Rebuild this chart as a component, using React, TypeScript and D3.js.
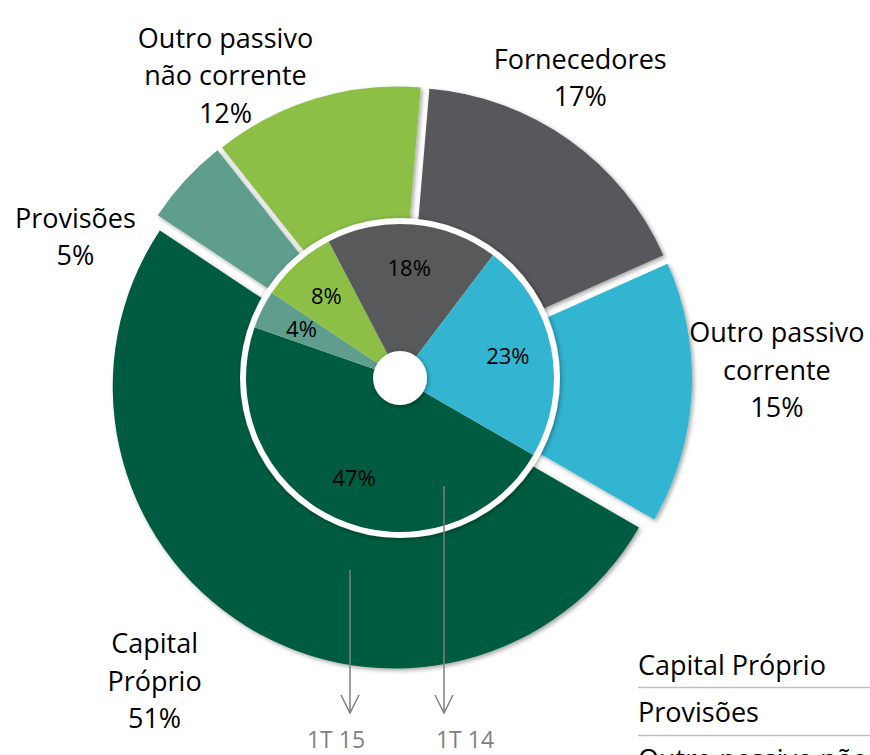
import React from "react";
import * as d3 from "d3";

const categories = [
  "Capital Próprio",
  "Provisões",
  "Outro passivo não corrente",
  "Fornecedores",
  "Outro passivo corrente",
];
const values1T15 = [51, 5, 12, 17, 15];
const values1T14 = [47, 4, 8, 18, 23];
const outerLabelLines = [
  ["Capital", "Próprio", "51%"],
  ["Provisões", "5%"],
  ["Outro passivo", "não corrente", "12%"],
  ["Fornecedores", "17%"],
  ["Outro passivo", "corrente", "15%"],
];
const innerLabelTexts = ["47%", "4%", "8%", "18%", "23%"];
const seriesNames = ["1T 15", "1T 14"];
const legendItems = ["Capital Próprio", "Provisões", "Outro passivo não corrente"];

const colors = ["#005C40", "#5F9E8D", "#8DBF46", "#58595B", "#33B5D1"];

// layout (not data)
const W = 870;
const H = 755;
const CX = 400;
const CY = 378;
const R_OUT = 282;
const R_IN = 154;
const R_RING = 160;
const R_HOLE = 27;
const EXPLODE = 10;
const FONT = "'Open Sans', 'DejaVu Sans', sans-serif";
// outer label anchors as (angle deg, radius) around centre
const outerLabelPolar = [
  [219, 390],
  [293.5, 354],
  [330, 349],
  [31, 350],
  [88.8, 377],
];
const LINE_H = 37.5;

export default function App() {
  const start = (120 * Math.PI) / 180;
  const pie = d3
    .pie<number>()
    .sort(null)
    .value((d) => d)
    .startAngle(start)
    .endAngle(start + 2 * Math.PI);
  const outerArcs = pie(values1T15);
  const innerArcs = pie(values1T14);

  const outerArc = d3.arc<d3.PieArcDatum<number>>().innerRadius(0).outerRadius(R_OUT);
  const innerArc = d3.arc<d3.PieArcDatum<number>>().innerRadius(0).outerRadius(R_IN);
  const innerLabelArc = d3.arc<d3.PieArcDatum<number>>().innerRadius(0).outerRadius(220);

  const arrowX = [350, 444];
  const arrowTop = [570, 486];
  const arrowTip = 713;
  const seriesLabelX = [336, 465];

  return (
    <svg
      width={W}
      height={H}
      style={{ position: "absolute", left: 0, top: 0, background: "#fff" }}
      fontFamily={FONT}
    >
      <defs>
        <filter id="sh" x="-20%" y="-20%" width="140%" height="140%">
          <feDropShadow dx="2" dy="2" stdDeviation="2" floodColor="#000" floodOpacity="0.35" />
        </filter>
        <filter id="sh2" x="-20%" y="-20%" width="140%" height="140%">
          <feDropShadow dx="1" dy="1" stdDeviation="2.5" floodColor="#000" floodOpacity="0.4" />
        </filter>
        <marker
          id="arr"
          viewBox="0 0 20 20"
          refX="19"
          refY="10"
          markerWidth="20"
          markerHeight="20"
          markerUnits="userSpaceOnUse"
          orient="auto"
        >
          <path d="M1,1 L19,10 L1,19" fill="none" stroke="#7F7F7F" strokeWidth="1.5" />
        </marker>
      </defs>

      <g transform={`translate(${CX},${CY})`}>
        {outerArcs.map((a, i) => {
          const mid = (a.startAngle + a.endAngle) / 2;
          const dx = Math.sin(mid) * EXPLODE;
          const dy = -Math.cos(mid) * EXPLODE;
          return (
            <path
              key={categories[i]}
              d={outerArc(a) || ""}
              fill={colors[i]}
              transform={`translate(${dx},${dy})`}
              filter="url(#sh)"
            />
          );
        })}
        <circle r={R_RING} fill="#fff" filter="url(#sh2)" />
        {innerArcs.map((a, i) => (
          <path key={categories[i]} d={innerArc(a) || ""} fill={colors[i]} />
        ))}
        <circle r={R_HOLE} fill="#fff" filter="url(#sh2)" />
        {innerArcs.map((a, i) => {
          const [x, y] = innerLabelArc.centroid(a);
          return (
            <text
              key={"l" + i}
              x={x}
              y={y}
              dy="0.35em"
              textAnchor="middle"
              fontSize={22}
              fill="#000"
            >
              {innerLabelTexts[i]}
            </text>
          );
        })}
        {outerLabelLines.map((lines, i) => {
          const [ang, r] = outerLabelPolar[i];
          const rad = (ang * Math.PI) / 180;
          const x = Math.sin(rad) * r;
          const y = -Math.cos(rad) * r;
          const y0 = y - ((lines.length - 1) * LINE_H) / 2;
          return (
            <text key={"o" + i} textAnchor="middle" fontSize={27} fill="#000">
              {lines.map((t, j) => (
                <tspan key={j} x={x} y={y0 + j * LINE_H} dy="0.35em">
                  {t}
                </tspan>
              ))}
            </text>
          );
        })}
      </g>

      {seriesNames.map((s, i) => (
        <g key={s}>
          <line
            x1={arrowX[i]}
            x2={arrowX[i]}
            y1={arrowTop[i]}
            y2={arrowTip}
            stroke="#7F7F7F"
            strokeWidth={1.5}
            markerEnd="url(#arr)"
          />
          <text
            x={seriesLabelX[i]}
            y={748}
            textAnchor="middle"
            fontSize={23}
            fill="#7F7F7F"
          >
            {s}
          </text>
        </g>
      ))}

      {legendItems.map((t, i) => (
        <g key={t}>
          <text x={638} y={675 + i * 47} fontSize={27} fill="#000">
            {t}
          </text>
          {i < 2 && (
            <line x1={638} x2={870} y1={687.5 + i * 48} y2={687.5 + i * 48} stroke="#BFBFBF" strokeWidth={1.5} />
          )}
        </g>
      ))}
    </svg>
  );
}
